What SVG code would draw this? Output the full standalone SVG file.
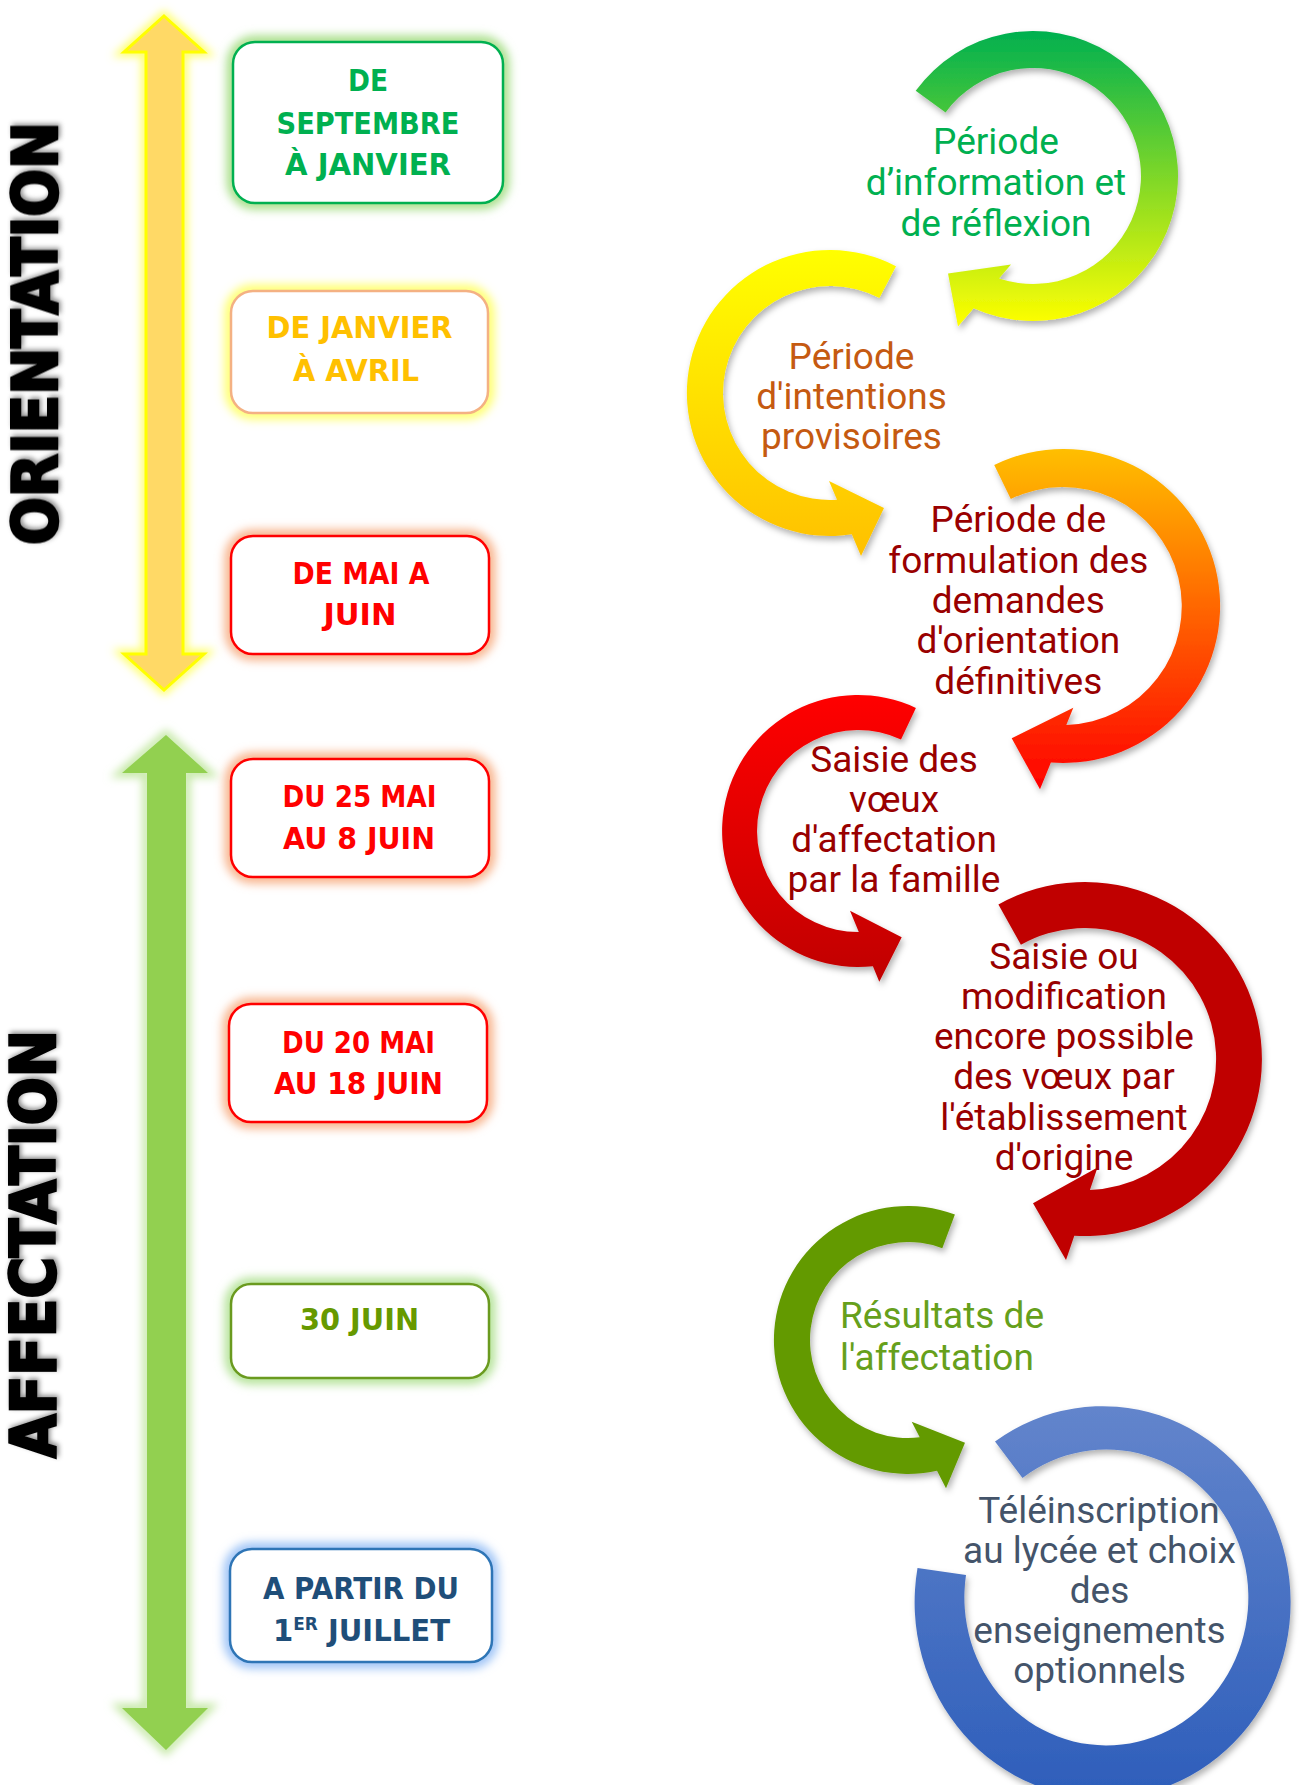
<svg xmlns="http://www.w3.org/2000/svg" width="1299" height="1785" viewBox="0 0 1299 1785">
<defs>
<style>
.box{fill:#fff;stroke-width:2.5}
.glow{fill:none;stroke-width:13;filter:url(#blur)}
.dt{font-family:"DejaVu Sans","Liberation Sans",sans-serif;font-weight:bold;font-size:31px;text-anchor:middle}
.step{font-family:Roboto,"Noto Sans",sans-serif;font-size:37px;text-anchor:middle}
.phase{font-family:"Liberation Sans Narrow","DejaVu Sans Condensed","Liberation Sans",sans-serif;font-weight:bold;font-size:62px;text-anchor:middle;fill:#000;stroke:#000;stroke-width:2.5;filter:url(#tshadow)}
.ring{filter:url(#shadow)}
</style>
<filter id="blur" x="-20%" y="-20%" width="140%" height="140%"><feGaussianBlur stdDeviation="5"/></filter>
<filter id="blur2" x="-30%" y="-5%" width="160%" height="110%"><feGaussianBlur stdDeviation="4"/></filter>
<filter id="shadow" x="-20%" y="-20%" width="140%" height="140%"><feDropShadow dx="2" dy="4" stdDeviation="3" flood-color="#000" flood-opacity="0.3"/></filter>
<filter id="tshadow" x="-30%" y="-10%" width="160%" height="120%"><feDropShadow dx="2" dy="2" stdDeviation="2.5" flood-color="#000" flood-opacity="0.45"/></filter>
<linearGradient id="g1" gradientUnits="userSpaceOnUse" x1="0" y1="32" x2="0" y2="325"><stop offset="0" stop-color="#00B050"/><stop offset="1" stop-color="#FFFF00"/></linearGradient>
<linearGradient id="g2" gradientUnits="userSpaceOnUse" x1="0" y1="250" x2="0" y2="556"><stop offset="0" stop-color="#FFFF00"/><stop offset="1" stop-color="#FFC000"/></linearGradient>
<linearGradient id="g3" gradientUnits="userSpaceOnUse" x1="0" y1="447" x2="0" y2="790"><stop offset="0" stop-color="#FFC000"/><stop offset="1" stop-color="#FF0000"/></linearGradient>
<linearGradient id="g4" gradientUnits="userSpaceOnUse" x1="0" y1="695" x2="0" y2="982"><stop offset="0" stop-color="#FF0000"/><stop offset="1" stop-color="#C00000"/></linearGradient>
<linearGradient id="g7" gradientUnits="userSpaceOnUse" x1="0" y1="1404" x2="0" y2="1785"><stop offset="0" stop-color="#6385CC"/><stop offset="1" stop-color="#2F5FBB"/></linearGradient>
</defs>
<rect width="1299" height="1785" fill="#fff"/>

<g id="phase-orientation">
<text class="phase" transform="translate(57,333.5) rotate(-90)" x="0" y="0" textLength="423" lengthAdjust="spacingAndGlyphs">ORIENTATION</text>
</g>
<g id="phase-affectation">
<text class="phase" transform="translate(55,1244) rotate(-90)" x="0" y="0" textLength="428" lengthAdjust="spacingAndGlyphs">AFFECTATION</text>
</g>

<g id="timeline-arrows">
<polygon points="164,16 204,52 183,52 183,654 204,654 164,690 124,654 146,654 146,52 124,52" fill="none" stroke="#FFFF66" stroke-width="9" filter="url(#blur2)"/>
<polygon points="164,16 204,52 183,52 183,654 204,654 164,690 124,654 146,654 146,52 124,52" fill="#FFD966" stroke="#FFFF00" stroke-width="3"/>
<polygon points="166,735 208,773 186,773 186,1708 208,1708 166,1750 122,1708 147,1708 147,773 122,773" fill="none" stroke="#C5E8A6" stroke-width="9" filter="url(#blur2)"/>
<polygon points="166,735 208,773 186,773 186,1708 208,1708 166,1750 122,1708 147,1708 147,773 122,773" fill="#92D050"/>
</g>

<g id="date-1">
<rect class="glow" x="233" y="42" width="270" height="161" rx="22" stroke="#A9DF8A"/>
<rect class="box" x="233" y="42" width="270" height="161" rx="22" stroke="#00B050"/>
<g class="dt" fill="#00B050">
<text x="368" y="91" textLength="40" lengthAdjust="spacingAndGlyphs">DE</text>
<text x="368" y="134" textLength="183" lengthAdjust="spacingAndGlyphs">SEPTEMBRE</text>
<text x="368" y="175" textLength="166" lengthAdjust="spacingAndGlyphs">À JANVIER</text>
</g>
</g>
<g id="date-2">
<rect class="glow" x="231" y="291" width="257" height="122" rx="22" stroke="#FFFF70"/>
<rect class="box" x="231" y="291" width="257" height="122" rx="22" stroke="#F4B183"/>
<g class="dt" fill="#FFC000">
<text x="359.5" y="338" textLength="186" lengthAdjust="spacingAndGlyphs">DE JANVIER</text>
<text x="356" y="381" textLength="126" lengthAdjust="spacingAndGlyphs">À AVRIL</text>
</g>
</g>
<g id="date-3">
<rect class="glow" x="231" y="536" width="258" height="118" rx="22" stroke="#F8B48C"/>
<rect class="box" x="231" y="536" width="258" height="118" rx="22" stroke="#FF0000"/>
<g class="dt" fill="#FF0000">
<text x="361" y="584" textLength="137" lengthAdjust="spacingAndGlyphs">DE MAI A</text>
<text x="360" y="625" textLength="73" lengthAdjust="spacingAndGlyphs">JUIN</text>
</g>
</g>
<g id="date-4">
<rect class="glow" x="231" y="759" width="258" height="118" rx="22" stroke="#F8B48C"/>
<rect class="box" x="231" y="759" width="258" height="118" rx="22" stroke="#FF0000"/>
<g class="dt" fill="#FF0000">
<text x="359.5" y="807" textLength="154" lengthAdjust="spacingAndGlyphs">DU 25 MAI</text>
<text x="359" y="849" textLength="152" lengthAdjust="spacingAndGlyphs">AU 8 JUIN</text>
</g>
</g>
<g id="date-5">
<rect class="glow" x="229" y="1004" width="258" height="118" rx="22" stroke="#F8B48C"/>
<rect class="box" x="229" y="1004" width="258" height="118" rx="22" stroke="#FF0000"/>
<g class="dt" fill="#FF0000">
<text x="358.5" y="1053" textLength="153" lengthAdjust="spacingAndGlyphs">DU 20 MAI</text>
<text x="358.5" y="1094" textLength="169" lengthAdjust="spacingAndGlyphs">AU 18 JUIN</text>
</g>
</g>
<g id="date-6">
<rect class="glow" x="231" y="1284" width="258" height="94" rx="20" stroke="#B5E39A"/>
<rect class="box" x="231" y="1284" width="258" height="94" rx="20" stroke="#6A9A1F"/>
<g class="dt" fill="#669900">
<text x="359.5" y="1330" textLength="119" lengthAdjust="spacingAndGlyphs">30 JUIN</text>
</g>
</g>
<g id="date-7">
<rect class="glow" x="230" y="1549" width="262" height="113" rx="22" stroke="#9DC3F6"/>
<rect class="box" x="230" y="1549" width="262" height="113" rx="22" stroke="#2E75B6"/>
<g class="dt" fill="#1F4E79">
<text x="361" y="1599" textLength="196" lengthAdjust="spacingAndGlyphs">A PARTIR DU</text>
<text x="361.5" y="1641" textLength="177" lengthAdjust="spacingAndGlyphs">1<tspan dy="-11" font-size="18">ER</tspan><tspan dy="11"> JUILLET</tspan></text>
</g>
</g>

<g id="connectors"></g>

<g id="step-1">
<path class="ring" fill="url(#g1)" d="M 915.7 90.8 A 145 145 0 1 1 973.6 308.3 L 958 326.6 L 948 273.5 L 1011 264.5 L 999 278.5 A 108 108 0 1 0 945.6 112.5 Z"/>
<g class="step" fill="#00B050">
<text x="996" y="154">Période</text>
<text x="996" y="195">d’information et</text>
<text x="996" y="236">de réflexion</text>
</g>
</g>
<g id="step-2">
<path class="ring" fill="url(#g2)" d="M 896 266.2 A 143 143 0 1 0 851.8 534.3 L 861 556 L 884 508 L 829 481 L 837 499.8 A 107 107 0 1 1 879.4 298.1 Z"/>
<g class="step" fill="#C55A11">
<text x="851.5" y="369">Période</text>
<text x="851.5" y="409">d'intentions</text>
<text x="851.5" y="449">provisoires</text>
</g>
</g>
<g id="step-3">
<path class="ring" fill="url(#g3)" d="M 994.2 464.9 A 157 157 0 1 1 1050.9 762.5 L 1040 789.3 L 1011.7 738.3 L 1073.3 707.7 L 1066.3 725 A 119 119 0 1 0 1010.8 499 Z"/>
<g class="step" fill="#990000">
<text x="1018.3" y="532">Période de</text>
<text x="1018.3" y="572.5">formulation des</text>
<text x="1018.3" y="613">demandes</text>
<text x="1018.3" y="653">d'orientation</text>
<text x="1018.3" y="693.5">définitives</text>
</g>
</g>
<g id="step-4">
<path class="ring" fill="url(#g4)" d="M 915.9 707.9 A 136 136 0 1 0 872.9 966.2 L 879.3 981.7 L 901.7 937.3 L 850 910.7 L 858.8 932 A 101 101 0 1 1 901 739.6 Z"/>
<g class="step" fill="#990000">
<text x="894" y="772">Saisie des</text>
<text x="894" y="812">vœux</text>
<text x="894" y="852">d'affectation</text>
<text x="894" y="892">par la famille</text>
</g>
</g>
<g id="step-5">
<path class="ring" fill="#C00000" d="M 998.4 904.6 A 177 177 0 1 1 1074.3 1235.7 L 1066 1260 L 1033 1203.3 L 1097.5 1167.5 L 1089.9 1189.9 A 131 131 0 1 0 1020.9 944.8 Z"/>
<g class="step" fill="#990000">
<text x="1064" y="969">Saisie ou</text>
<text x="1064" y="1009">modification</text>
<text x="1064" y="1049">encore possible</text>
<text x="1064" y="1089">des vœux par</text>
<text x="1064" y="1130">l'établissement</text>
<text x="1064" y="1169.5">d'origine</text>
</g>
</g>
<g id="step-6">
<path class="ring" fill="#649A02" d="M 954.9 1214.5 A 134 134 0 1 0 937 1470.8 L 946 1488.3 L 965 1442.7 L 911.7 1421.7 L 919.7 1437.3 A 98 98 0 1 1 942.3 1248.2 Z"/>
<g class="step" fill="#66A01C" style="text-anchor:start">
<text x="840" y="1328">Résultats de</text>
<text x="840" y="1369.5">l'affectation</text>
</g>
</g>
<g id="step-7">
<path class="ring" fill="url(#g7)" d="M 995 1441.5 A 188 196 0 1 1 917.5 1568 L 966 1575 A 142 148 0 1 0 1022.5 1478 Z"/>
<g class="step" fill="#44546A">
<text x="1099" y="1522.5">Téléinscription</text>
<text x="1099.5" y="1562.5">au lycée et choix</text>
<text x="1099.5" y="1602.5">des</text>
<text x="1099.5" y="1642.5">enseignements</text>
<text x="1099.5" y="1682.5">optionnels</text>
</g>
</g>
</svg>
